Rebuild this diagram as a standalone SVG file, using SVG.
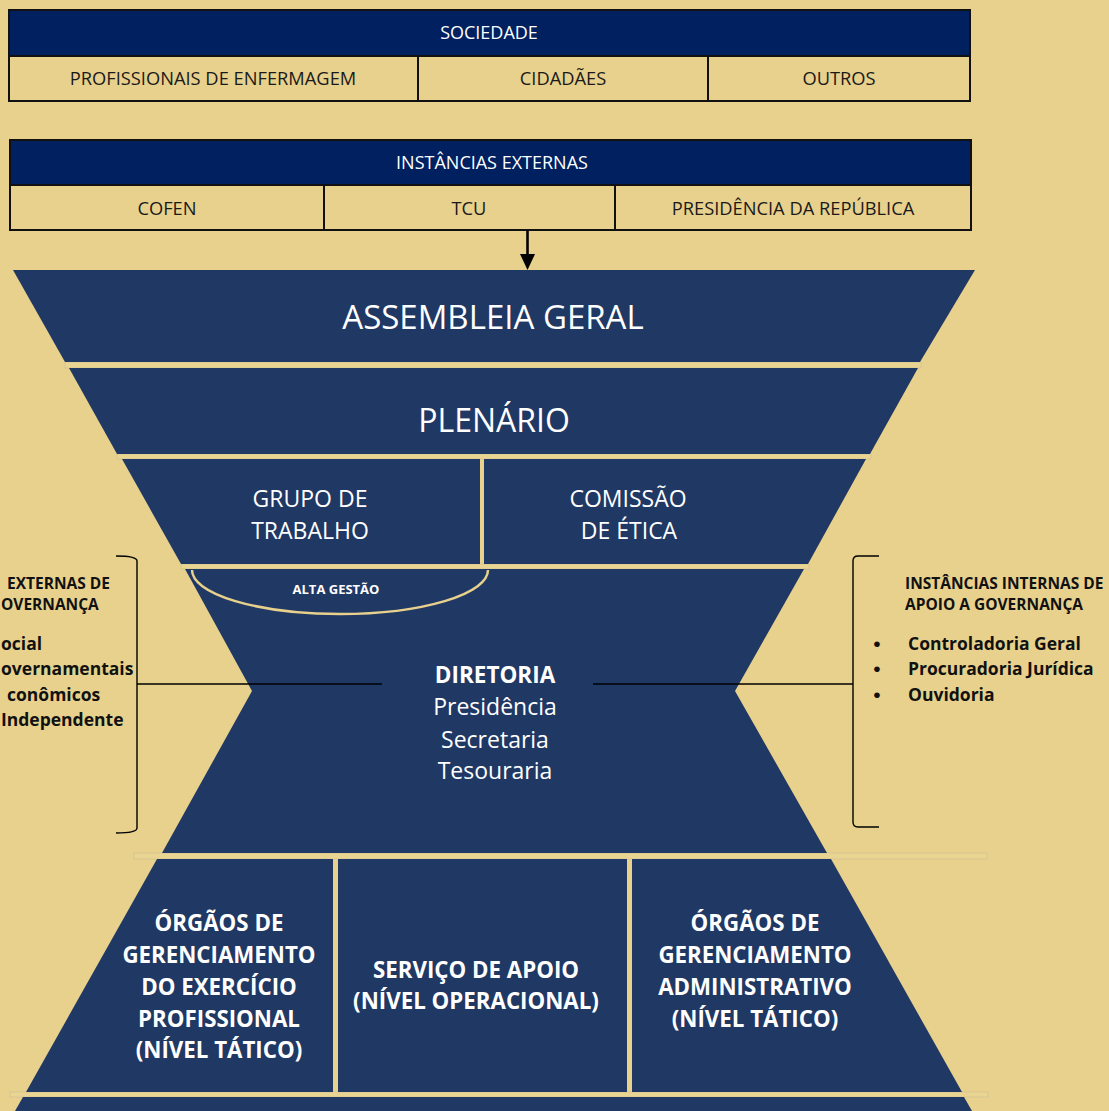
<svg xmlns="http://www.w3.org/2000/svg" width="1109" height="1111" viewBox="0 0 1109 1111">
<style>
text{font-family:"Open Sans","Liberation Sans",sans-serif}
.hdr{fill:#002060;stroke:#111;stroke-width:2}
.cell{fill:none;stroke:#111;stroke-width:2}
.ht{fill:#fff;font-size:18px;text-anchor:middle}
.ct{fill:#1a1a1a;font-size:18.3px;text-anchor:middle}
.shape{fill:#203864}
.sep{fill:#EAD491;stroke:#c9bc94;stroke-width:0.6}
.big{fill:#fff;font-size:33px;text-anchor:middle}
.mid{fill:#fff;font-size:23px;text-anchor:middle}
.bw{fill:#fff;font-size:22.3px;font-weight:bold;text-anchor:middle}
.side{fill:#111;font-size:15.5px;font-weight:bold}
.item{fill:#111;font-size:17.5px;font-weight:bold}
.bul{fill:#111;font-size:21px;font-family:"Liberation Sans",sans-serif;text-anchor:middle}
.ln{stroke:#000;stroke-width:1.4;fill:none}
</style>
<rect x="0" y="0" width="1109" height="1111" fill="#E8D18D"/>

<g id="sociedade">
  <rect class="hdr" x="9" y="10" width="961" height="46"/>
  <text class="ht" x="489" y="39">SOCIEDADE</text>
  <rect class="cell" x="9" y="56" width="409" height="45"/>
  <rect class="cell" x="418" y="56" width="290" height="45"/>
  <rect class="cell" x="708" y="56" width="262" height="45"/>
  <text class="ct" x="213" y="85">PROFISSIONAIS DE ENFERMAGEM</text>
  <text class="ct" x="563" y="85">CIDADÃES</text>
  <text class="ct" x="839" y="85">OUTROS</text>
</g>

<g id="instancias-externas">
  <rect class="hdr" x="10" y="140" width="961" height="45"/>
  <text class="ht" x="492" y="169">INSTÂNCIAS EXTERNAS</text>
  <rect class="cell" x="10" y="185" width="314" height="45"/>
  <rect class="cell" x="324" y="185" width="291" height="45"/>
  <rect class="cell" x="615" y="185" width="356" height="45"/>
  <text class="ct" x="167" y="215">COFEN</text>
  <text class="ct" x="469" y="215">TCU</text>
  <text class="ct" x="793" y="215">PRESIDÊNCIA DA REPÚBLICA</text>
</g>

<g id="separators">
  <rect class="sep" x="65" y="362" width="856" height="6"/>
  <rect class="sep" x="117" y="454" width="754" height="5"/>
  <rect class="sep" x="181" y="564" width="628" height="5"/>
  <rect class="sep" x="134" y="853" width="853" height="6"/>
  <rect class="sep" x="10" y="1092" width="978" height="5"/>
</g>

<g id="assembleia-geral">
  <polygon class="shape" points="13,270 975,270 920,362 65,362"/>
  <text class="big" x="493" y="329">ASSEMBLEIA GERAL</text>
</g>

<g id="plenario">
  <polygon class="shape" points="69,368 918,368 870,454 117,454"/>
  <text class="big" x="494" y="432" style="font-size:32px">PLENÁRIO</text>
</g>

<g id="grupo-de-trabalho">
  <polygon class="shape" points="122,459 480,459 480,564 181,564"/>
  <text class="mid" x="310" y="507">GRUPO DE</text>
  <text class="mid" x="310" y="539">TRABALHO</text>
</g>

<g id="comissao-de-etica">
  <polygon class="shape" points="484,459 866,459 808,564 484,564"/>
  <text class="mid" x="628" y="507">COMISSÃO</text>
  <text class="mid" x="629" y="539">DE ÉTICA</text>
</g>

<g id="diretoria">
  <polygon class="shape" points="185,569 804,569 735,691 827,853 162,853 252,691"/>
  <text x="495" y="683" style="fill:#fff;font-size:22.5px;font-weight:bold;text-anchor:middle">DIRETORIA</text>
  <text class="mid" x="495" y="715">Presidência</text>
  <text class="mid" x="495" y="748">Secretaria</text>
  <text class="mid" x="495" y="779">Tesouraria</text>
</g>

<g id="alta-gestao">
  <path d="M192,570 A148,44 0 0 0 488,570" fill="none" stroke="#E8D18D" stroke-width="2.5"/>
  <text x="336" y="594" style="fill:#fff;font-size:13px;font-weight:bold;text-anchor:middle">ALTA GESTÃO</text>
</g>

<g id="orgaos-exercicio-profissional">
  <polygon class="shape" points="157,859 333,859 333,1092 26,1092"/>
  <text class="bw" x="219" y="931">ÓRGÃOS DE</text>
  <text class="bw" x="219" y="963">GERENCIAMENTO</text>
  <text class="bw" x="219" y="995">DO EXERCÍCIO</text>
  <text class="bw" x="219" y="1027">PROFISSIONAL</text>
  <text class="bw" x="219" y="1058">(NÍVEL TÁTICO)</text>
</g>

<g id="servico-de-apoio">
  <rect class="shape" x="338" y="859" width="289" height="233"/>
  <text class="bw" x="476" y="978">SERVIÇO DE APOIO</text>
  <text class="bw" x="476" y="1009">(NÍVEL OPERACIONAL)</text>
</g>

<g id="orgaos-administrativo">
  <polygon class="shape" points="632,859 831,859 962,1092 632,1092"/>
  <text class="bw" x="755" y="931">ÓRGÃOS DE</text>
  <text class="bw" x="755" y="963">GERENCIAMENTO</text>
  <text class="bw" x="755" y="995">ADMINISTRATIVO</text>
  <text class="bw" x="755" y="1027">(NÍVEL TÁTICO)</text>
</g>

<g id="base">
  <polygon class="shape" points="23,1097 964,1097 972,1111 15,1111"/>
</g>

<g id="instancias-externas-apoio">
  <text class="side" x="7" y="589">EXTERNAS DE</text>
  <text class="side" x="1" y="610">OVERNANÇA</text>
  <text class="item" x="1" y="650">ocial</text>
  <text class="item" x="1" y="675">overnamentais</text>
  <text class="item" x="7" y="701">conômicos</text>
  <text class="item" x="1" y="726">Independente</text>
</g>

<g id="instancias-internas-apoio">
  <text class="side" x="905" y="589">INSTÂNCIAS INTERNAS DE</text>
  <text class="side" x="905" y="610">APOIO A GOVERNANÇA</text>
  <text class="bul" x="877" y="651">•</text>
  <text class="bul" x="877" y="676">•</text>
  <text class="bul" x="877" y="702">•</text>
  <text class="item" x="908" y="650">Controladoria Geral</text>
  <text class="item" x="908" y="675">Procuradoria Jurídica</text>
  <text class="item" x="908" y="701">Ouvidoria</text>
</g>

<g id="connectors">
  <line x1="527.5" y1="230" x2="527.5" y2="256" stroke="#000" stroke-width="2.6"/>
  <polygon points="520,254 535,254 527.5,270" fill="#000"/>
  <path class="ln" d="M116,556 Q137,556 137,561 L137,828 Q137,833 116,833"/>
  <path class="ln" d="M879,556 L858,556 Q853,556 853,561 L853,822 Q853,827 858,827 L879,827"/>
  <line class="ln" x1="137" y1="684" x2="382" y2="684"/>
  <line class="ln" x1="593" y1="684" x2="853" y2="684"/>
</g>
</svg>
